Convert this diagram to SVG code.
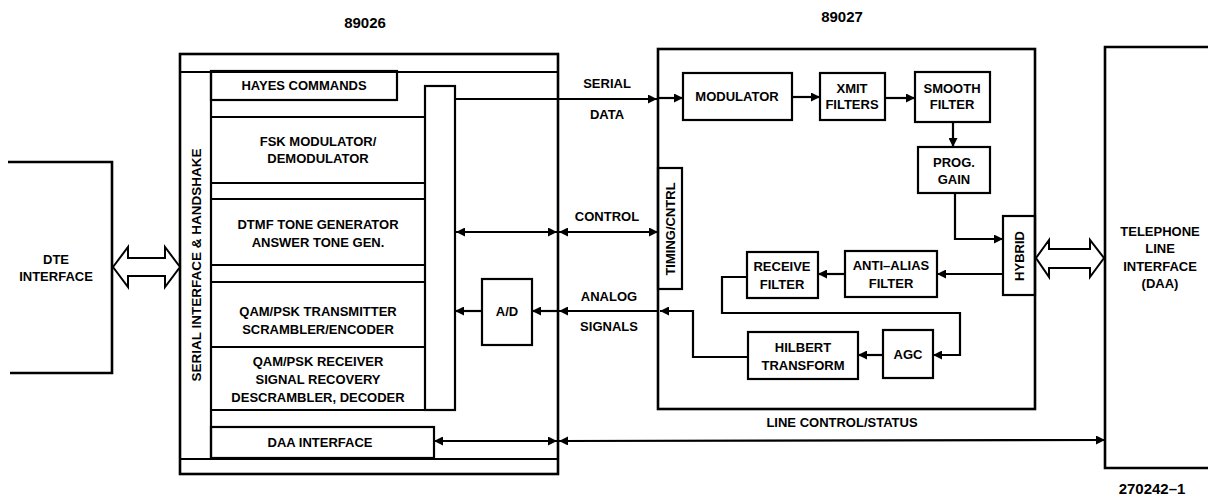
<svg xmlns="http://www.w3.org/2000/svg" width="1208" height="500" viewBox="0 0 1208 500">
<defs>
<marker id="ah" viewBox="0 0 10 10" refX="10" refY="5" markerWidth="9" markerHeight="9" markerUnits="userSpaceOnUse" orient="auto-start-reverse">
<path d="M0,0 L10,5 L0,10 z" fill="#000"/>
</marker>
</defs>
<style>
.outer{fill:none;stroke:#000;stroke-width:2.6}
.box{fill:none;stroke:#000;stroke-width:2.2}
.ln{fill:none;stroke:#000;stroke-width:2.2}
.c{fill:none;stroke:#000;stroke-width:2.2;marker-end:url(#ah)}
.d{fill:none;stroke:#000;stroke-width:2.2;marker-start:url(#ah);marker-end:url(#ah)}
.hollow{fill:#fff;stroke:#000;stroke-width:2}
text{font-family:"Liberation Sans",Arial,sans-serif;font-weight:bold;font-size:13px;fill:#000;text-anchor:middle}
.title{font-size:15px}
.vs{font-size:13.5px}
</style>
<rect width="1208" height="500" fill="#fff"/>

<text class="title" x="365" y="28">89026</text>
<text class="title" x="842" y="22">89027</text>

<g id="dte">
<path class="outer" d="M8,162 L112,162 L112,373 L10,373"/>
<text x="56" y="264">DTE</text>
<text x="56" y="281">INTERFACE</text>
</g>

<g id="chip89026">
<rect class="outer" x="180" y="54" width="378" height="420"/>
<line class="ln" x1="180" y1="72" x2="558" y2="72"/>
<line class="ln" x1="180" y1="459" x2="558" y2="459"/>
</g>

<g id="serial-if">
<line class="ln" x1="211" y1="72" x2="211" y2="459"/>
<text class="vs" transform="translate(201,265) rotate(-90)">SERIAL INTERFACE &amp; HANDSHAKE</text>
</g>

<g id="hayes">
<rect class="box" x="211" y="71" width="186" height="29"/>
<text x="304" y="90">HAYES COMMANDS</text>
</g>

<g id="bus">
<rect class="box" x="425" y="86" width="30" height="324"/>
</g>

<g id="fsk">
<path class="ln" d="M211,117 L425,117 M211,183 L425,183 M211,199 L425,199"/>
<text x="318" y="146">FSK MODULATOR/</text>
<text x="318" y="163">DEMODULATOR</text>
</g>

<g id="dtmf">
<path class="ln" d="M211,265 L425,265 M211,282 L425,282"/>
<text x="318" y="229">DTMF TONE GENERATOR</text>
<text x="318" y="247">ANSWER TONE GEN.</text>
</g>

<g id="qamtx">
<path class="ln" d="M211,347 L425,347"/>
<text x="318" y="316">QAM/PSK TRANSMITTER</text>
<text x="318" y="334">SCRAMBLER/ENCODER</text>
</g>

<g id="qamrx">
<path class="ln" d="M211,410 L425,410"/>
<text x="318" y="366">QAM/PSK RECEIVER</text>
<text x="318" y="384">SIGNAL RECOVERY</text>
<text x="318" y="402">DESCRAMBLER, DECODER</text>
</g>

<g id="daa-if">
<rect class="box" x="211" y="427" width="223" height="31"/>
<text x="320" y="447">DAA INTERFACE</text>
</g>

<g id="ad">
<rect class="box" x="482" y="279" width="50" height="66"/>
<text x="507" y="316">A/D</text>
</g>

<g id="chip89027">
<rect class="outer" x="658" y="49" width="377" height="360"/>
</g>

<g id="timing">
<rect class="box" x="658" y="168" width="24" height="121"/>
<text transform="translate(675,229) rotate(-90)">TIMING/CNTRL</text>
</g>

<g id="modulator">
<rect class="box" x="683" y="73" width="109" height="47"/>
<text x="737" y="101">MODULATOR</text>
</g>

<g id="xmit">
<rect class="box" x="820" y="73" width="65" height="47"/>
<text x="852" y="93">XMIT</text>
<text x="852" y="109">FILTERS</text>
</g>

<g id="smooth">
<rect class="box" x="915" y="72" width="75" height="50"/>
<text x="952" y="93">SMOOTH</text>
<text x="952" y="109">FILTER</text>
</g>

<g id="proggain">
<rect class="box" x="918" y="147" width="72" height="46"/>
<text x="954" y="167">PROG.</text>
<text x="954" y="184">GAIN</text>
</g>

<g id="hybrid">
<rect class="box" x="1003" y="216" width="32" height="79"/>
<text transform="translate(1024,256) rotate(-90)">HYBRID</text>
</g>

<g id="antialias">
<rect class="box" x="845" y="251" width="92" height="46"/>
<text x="891" y="270">ANTI–ALIAS</text>
<text x="891" y="288">FILTER</text>
</g>

<g id="receive">
<rect class="box" x="747" y="252" width="71" height="46"/>
<text x="782" y="271">RECEIVE</text>
<text x="782" y="289">FILTER</text>
</g>

<g id="agc">
<rect class="box" x="883" y="330" width="50" height="48"/>
<text x="908" y="359">AGC</text>
</g>

<g id="hilbert">
<rect class="box" x="748" y="332" width="110" height="47"/>
<text x="803" y="352">HILBERT</text>
<text x="803" y="370">TRANSFORM</text>
</g>

<g id="telephone">
<path class="outer" d="M1208,47 L1105,47 L1105,468 L1208,468"/>
<text x="1160" y="236">TELEPHONE</text>
<text x="1160" y="253">LINE</text>
<text x="1160" y="271">INTERFACE</text>
<text x="1160" y="288">(DAA)</text>
</g>

<g id="connectors">
<polygon class="hollow" points="113,267 128,247 128,258 165,258 165,247 180,267 165,287 165,276 128,276 128,287"/>
<polygon class="hollow" points="1036,258 1049,240 1049,249 1090,249 1090,240 1104,258 1090,277 1090,268 1049,268 1049,277"/>
<line class="c" x1="455" y1="99" x2="657" y2="99"/>
<line class="c" x1="658" y1="98" x2="683" y2="98"/>
<line class="c" x1="792" y1="97" x2="820" y2="97"/>
<line class="c" x1="885" y1="98" x2="915" y2="98"/>
<line class="c" x1="953" y1="122" x2="953" y2="147"/>
<path class="c" d="M955,193 L955,239 L1003,239"/>
<line class="c" x1="1003" y1="274" x2="937" y2="274"/>
<line class="c" x1="845" y1="274" x2="818" y2="274"/>
<path class="c" d="M747,277 L722,277 L722,313 L960,313 L960,355 L933,355"/>
<line class="c" x1="883" y1="355" x2="858" y2="355"/>
<path class="c" d="M748,357 L693,357 L693,311 L660,311"/>
<line class="c" x1="658" y1="311" x2="559" y2="311"/>
<line class="c" x1="558" y1="311" x2="532" y2="311"/>
<line class="c" x1="482" y1="311" x2="455" y2="311"/>
<line class="d" x1="456" y1="232" x2="557" y2="232"/>
<line class="d" x1="559" y1="232" x2="658" y2="232"/>
<line class="d" x1="434" y1="441" x2="557" y2="441"/>
<line class="d" x1="559" y1="441" x2="1105" y2="440"/>
<text x="607" y="88">SERIAL</text>
<text x="607" y="119">DATA</text>
<text x="607" y="221">CONTROL</text>
<text x="609" y="301">ANALOG</text>
<text x="609" y="331">SIGNALS</text>
<text x="842" y="427">LINE CONTROL/STATUS</text>
</g>

<text class="title" x="1152" y="494">270242–1</text>
</svg>
